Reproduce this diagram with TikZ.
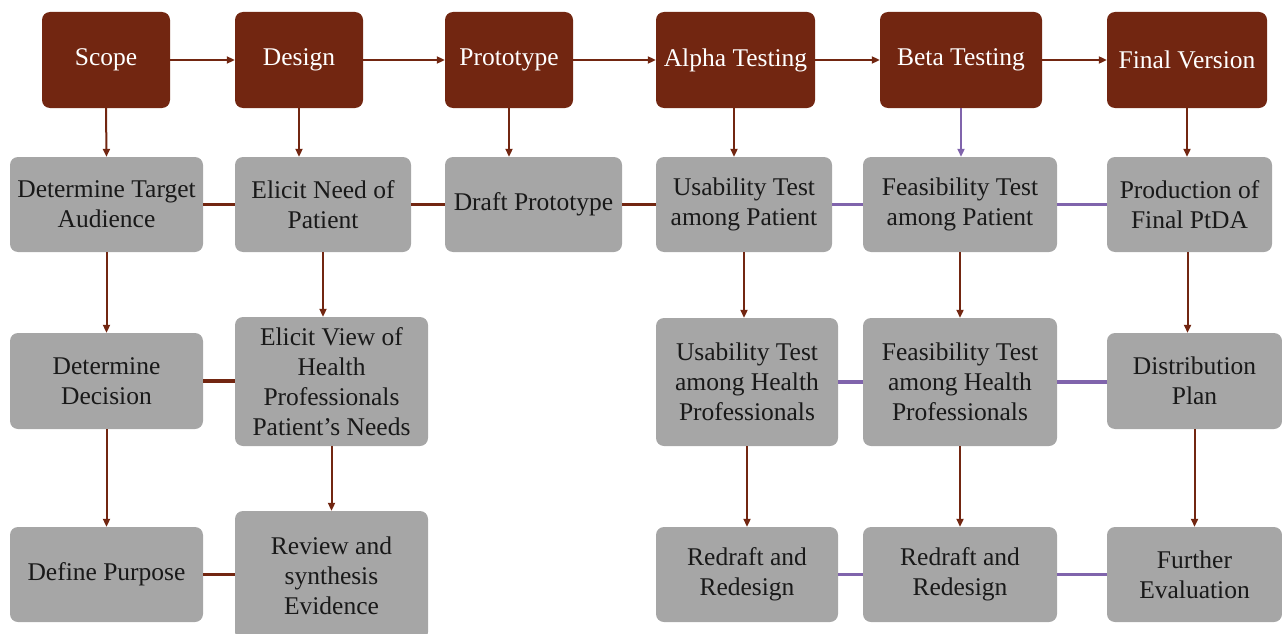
\documentclass[tikz,border=0pt]{standalone}
\usepackage{fontspec}
\setmainfont{LiberationSerif}[Extension=.ttf, UprightFont=*-Regular, BoldFont=*-Bold, ItalicFont=*-Italic]
\usepackage{tikz}
\usetikzlibrary{arrows.meta,positioning}
\definecolor{phasered}{RGB}{114,38,17}
\definecolor{taskgrey}{RGB}{166,166,166}
\definecolor{linkpurple}{RGB}{128,100,172}

\begin{document}
\begin{tikzpicture}[x=1pt, y=-1pt,
  every node/.style={font=\rmfamily\fontsize{25.5}{30}\selectfont, align=center, rounded corners=8pt, inner sep=2pt},
  phase/.style={fill=phasered, text=white, minimum height=96pt},
  task/.style={fill=taskgrey, text=black!90},
  flow/.style={-{Triangle[length=8pt,width=7pt]}, line width=2pt},
  tie/.style={line width=3.5pt}]
  \useasboundingbox (0,0) rectangle (1282,634);
  % phases along the top
  \node[phase, minimum width=128pt] (scope)  at (106,60)   {Scope};
  \node[phase, minimum width=128pt] (design) at (299,60)   {Design};
  \node[phase, minimum width=128pt] (proto)  at (509,60)   {Prototype};
  \node[phase, minimum width=159pt] (alpha)  at (735.5,60) {Alpha Testing};
  \node[phase, minimum width=162pt] (beta)   at (961,60)   {Beta Testing};
  \node[phase, minimum width=160pt] (final)  at (1187,60)  {Final Version};
  % second row
  \node[task, minimum width=193pt, minimum height=95pt] (target)  at (106.5,204.5) {Determine Target\\Audience};
  \node[task, minimum width=176pt, minimum height=95pt] (needpat) at (323,204.5)   {Elicit Need of\\Patient};
  \node[task, minimum width=177pt, minimum height=95pt] (draft)   at (533.5,204.5) {Draft Prototype};
  \node[task, minimum width=176pt, minimum height=95pt] (usepat)  at (744,204.5)   {Usability Test\\among Patient};
  \node[task, minimum width=194pt, minimum height=95pt] (feaspat) at (960,204.5)   {Feasibility Test\\among Patient};
  \node[task, minimum width=165pt, minimum height=95pt] (prod)    at (1189.5,204.5){Production of\\Final PtDA};
  % third row
  \node[task, minimum width=193pt, minimum height=96pt]  (decision) at (106.5,381)  {Determine\\Decision};
  \node[task, minimum width=193pt, minimum height=129pt] (viewhp)   at (331.5,381.5){Elicit View of\\Health\\Professionals\\Patient’s Needs};
  \node[task, minimum width=182pt, minimum height=128pt] (usehp)    at (747,382)    {Usability Test\\among Health\\Professionals};
  \node[task, minimum width=194pt, minimum height=128pt] (feashp)   at (960,382)    {Feasibility Test\\among Health\\Professionals};
  \node[task, minimum width=175pt, minimum height=96pt]  (distrib)  at (1194.5,381) {Distribution\\Plan};
  % bottom row
  \node[task, minimum width=193pt, minimum height=95pt]  (purpose)  at (106.5,574.5) {Define Purpose};
  \node[task, minimum width=193pt, minimum height=129pt] (review)   at (331.5,575.5) {Review and\\synthesis\\Evidence};
  \node[task, minimum width=182pt, minimum height=95pt]  (redraftA) at (747,574.5)   {Redraft and\\Redesign};
  \node[task, minimum width=194pt, minimum height=95pt]  (redraftB) at (960,574.5)   {Redraft and\\Redesign};
  \node[task, minimum width=175pt, minimum height=95pt]  (further)  at (1194.5,574.5){Further\\Evaluation};

  % phase sequence
  \draw[flow, phasered] (scope) -- (design);
  \draw[flow, phasered] (design) -- (proto);
  \draw[flow, phasered] (proto) -- (alpha);
  \draw[flow, phasered] (alpha) -- (beta);
  \draw[flow, phasered] (beta) -- (final);
  % down from each phase
  \draw[flow, phasered] (scope.south) -- (target.north);
  \draw[flow, phasered] (design.south) -- (design.south |- needpat.north);
  \draw[flow, phasered] (proto.south) -- (proto.south |- draft.north);
  \draw[flow, phasered] ([xshift=-1.5pt]alpha.south) -- ([xshift=-1.5pt]alpha.south |- usepat.north);
  \draw[flow, linkpurple] (beta.south) -- (beta.south |- feaspat.north);
  \draw[flow, phasered] (final.south) -- (final.south |- prod.north);
  \draw[flow, phasered] (target.south) -- (decision.north);
  \draw[flow, phasered] (needpat.south) -- (needpat.south |- viewhp.north);
  \draw[flow, phasered] (usepat.south) -- (usepat.south |- usehp.north);
  \draw[flow, phasered] (feaspat.south) -- (feashp.north);
  \draw[flow, phasered] ([xshift=-2pt]prod.south) -- ([xshift=-2pt]prod.south |- distrib.north);
  \draw[flow, phasered] (decision.south) -- (purpose.north);
  \draw[flow, phasered] (viewhp.south) -- (review.north);
  \draw[flow, phasered] (usehp.south) -- (redraftA.north);
  \draw[flow, phasered] (feashp.south) -- (redraftB.north);
  \draw[flow, phasered] (distrib.south) -- (further.north);
  % side links
  \draw[tie, phasered] (target) -- (needpat);
  \draw[tie, phasered] (needpat) -- (draft);
  \draw[tie, phasered] (draft) -- (usepat);
  \draw[tie, linkpurple] (usepat) -- (feaspat);
  \draw[tie, linkpurple] (feaspat) -- (prod);
  \draw[tie, phasered] (decision.east) -- (decision.east -| viewhp.west);
  \draw[tie, linkpurple] (usehp) -- (feashp);
  \draw[tie, linkpurple] (feashp.east) -- (feashp.east -| distrib.west);
  \draw[tie, phasered] (purpose.east) -- (purpose.east -| review.west);
  \draw[tie, linkpurple] (redraftA) -- (redraftB);
  \draw[tie, linkpurple] (redraftB) -- (further);
\end{tikzpicture}
\end{document}
